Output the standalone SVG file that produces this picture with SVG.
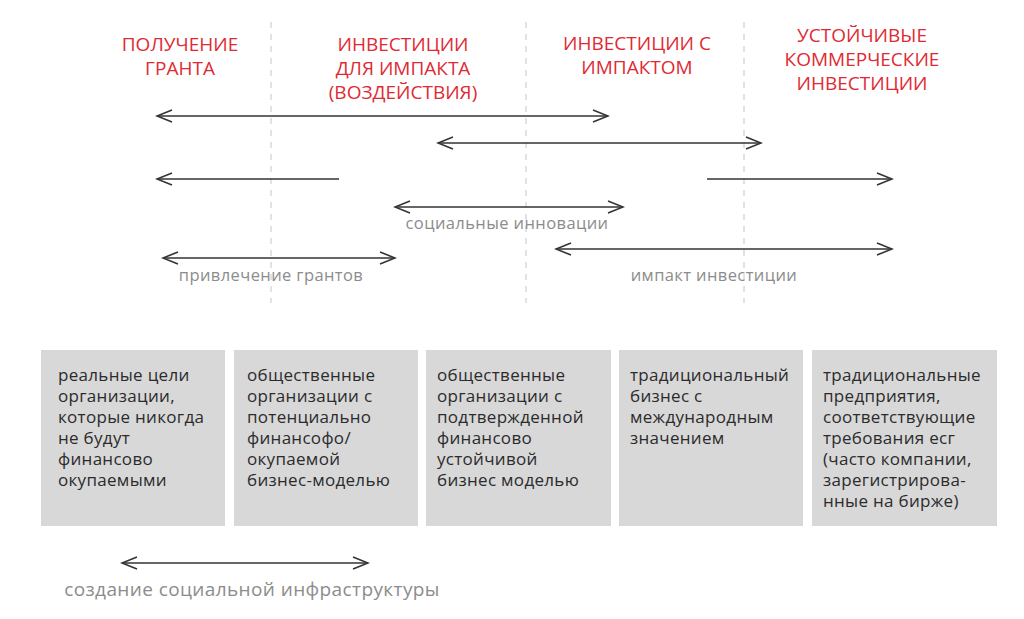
<svg xmlns="http://www.w3.org/2000/svg" width="1024" height="619" viewBox="0 0 1024 619">
<style>
.hdr{font-family:"Open Sans","Liberation Sans",sans-serif;font-size:19px;fill:#e02a33;text-anchor:middle}
.lbl{font-family:"Open Sans","Liberation Sans",sans-serif;font-size:16.5px;letter-spacing:0.4px;fill:#8c8c8c;text-anchor:middle}
.lbl2{font-family:"Open Sans","Liberation Sans",sans-serif;font-size:19px;letter-spacing:0.4px;fill:#8c8c8c;text-anchor:middle}
.box{fill:#d8d8d9}
.bt{font-family:"Open Sans","Liberation Sans",sans-serif;font-size:17px;letter-spacing:0.3px;fill:#2b2b2b}
.dash{stroke:#cfcfcf;stroke-width:1.2;stroke-dasharray:6 6;fill:none}
.arr{stroke:#333;stroke-width:1.6;fill:none}
</style>
<defs>
<marker id="ah" markerUnits="userSpaceOnUse" markerWidth="18" markerHeight="16" refX="16" refY="7" orient="auto-start-reverse">
<path d="M1,1 L16,7 L1,13" fill="none" stroke="#333" stroke-width="1.6"/>
</marker>
</defs>
<rect width="1024" height="619" fill="#fff"/>
<g id="dividers">
<line class="dash" x1="271" y1="22" x2="271" y2="303"/>
<line class="dash" x1="526" y1="22" x2="526" y2="303"/>
<line class="dash" x1="744" y1="22" x2="744" y2="303"/>
</g>
<g id="headers">
<g id="h1"><text class="hdr" x="180" y="51">ПОЛУЧЕНИЕ</text><text class="hdr" x="180" y="75">ГРАНТА</text></g>
<g id="h2"><text class="hdr" x="403" y="51">ИНВЕСТИЦИИ</text><text class="hdr" x="403" y="75">ДЛЯ ИМПАКТА</text><text class="hdr" x="403" y="99">(ВОЗДЕЙСТВИЯ)</text></g>
<g id="h3"><text class="hdr" x="637" y="50">ИНВЕСТИЦИИ С</text><text class="hdr" x="637" y="74">ИМПАКТОМ</text></g>
<g id="h4"><text class="hdr" x="862" y="42">УСТОЙЧИВЫЕ</text><text class="hdr" x="862" y="66">КОММЕРЧЕСКИЕ</text><text class="hdr" x="862" y="90">ИНВЕСТИЦИИ</text></g>
</g>
<g id="connectors">
<line class="arr" x1="157" y1="116" x2="608" y2="116" marker-start="url(#ah)" marker-end="url(#ah)"/>
<line class="arr" x1="438" y1="143" x2="761" y2="143" marker-start="url(#ah)" marker-end="url(#ah)"/>
<line class="arr" x1="157" y1="179" x2="339" y2="179" marker-start="url(#ah)"/>
<line class="arr" x1="707" y1="179" x2="892" y2="179" marker-end="url(#ah)"/>
<line class="arr" x1="395" y1="207" x2="623" y2="207" marker-start="url(#ah)" marker-end="url(#ah)"/>
<line class="arr" x1="556" y1="249" x2="892" y2="249" marker-start="url(#ah)" marker-end="url(#ah)"/>
<line class="arr" x1="163" y1="258" x2="395" y2="258" marker-start="url(#ah)" marker-end="url(#ah)"/>
<line class="arr" x1="122" y1="563" x2="368" y2="563" marker-start="url(#ah)" marker-end="url(#ah)"/>
</g>
<g id="labels">
<text class="lbl" x="507" y="229">социальные инновации</text>
<text class="lbl" x="714" y="281">импакт инвестиции</text>
<text class="lbl" x="271" y="281">привлечение грантов</text>
<text class="lbl2" x="252" y="596">создание социальной инфраструктуры</text>
</g>
<g id="box1"><rect class="box" x="41" y="350" width="184" height="176"/>
<text class="bt" x="58" y="381">реальные цели</text><text class="bt" x="58" y="402">организации,</text><text class="bt" x="58" y="423">которые никогда</text><text class="bt" x="58" y="444">не будут</text><text class="bt" x="58" y="465">финансово</text><text class="bt" x="58" y="486">окупаемыми</text></g>
<g id="box2"><rect class="box" x="234" y="350" width="184" height="176"/>
<text class="bt" x="247" y="381">общественные</text><text class="bt" x="247" y="402">организации с</text><text class="bt" x="247" y="423">потенциально</text><text class="bt" x="247" y="444">финансофо/</text><text class="bt" x="247" y="465">окупаемой</text><text class="bt" x="247" y="486">бизнес-моделью</text></g>
<g id="box3"><rect class="box" x="426" y="350" width="185" height="176"/>
<text class="bt" x="437" y="381">общественные</text><text class="bt" x="437" y="402">организации с</text><text class="bt" x="437" y="423">подтвержденной</text><text class="bt" x="437" y="444">финансово</text><text class="bt" x="437" y="465">устойчивой</text><text class="bt" x="437" y="486">бизнес моделью</text></g>
<g id="box4"><rect class="box" x="619" y="350" width="184" height="176"/>
<text class="bt" x="630" y="381">традициональный</text><text class="bt" x="630" y="402">бизнес с</text><text class="bt" x="630" y="423">международным</text><text class="bt" x="630" y="444">значением</text></g>
<g id="box5"><rect class="box" x="812" y="350" width="185" height="176"/>
<text class="bt" x="823" y="381">традициональные</text><text class="bt" x="823" y="402">предприятия,</text><text class="bt" x="823" y="423">соответствующие</text><text class="bt" x="823" y="444">требования есг</text><text class="bt" x="823" y="465">(часто компании,</text><text class="bt" x="823" y="486">зарегистрирова-</text><text class="bt" x="823" y="507">нные на бирже)</text></g>
</svg>
